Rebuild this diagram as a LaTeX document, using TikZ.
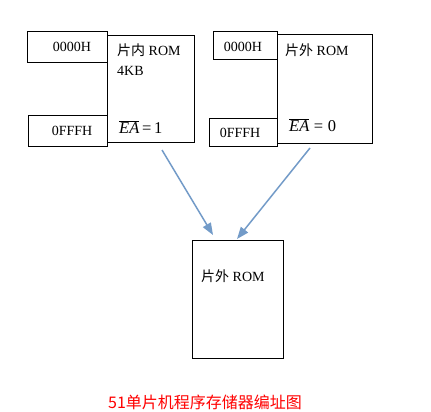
\documentclass[tikz,border=0pt]{standalone}
\usepackage{fontspec}
\setmainfont{Liberation Serif}
\newfontfamily\cjk{Noto Sans CJK SC}
\usetikzlibrary{arrows.meta}
\definecolor{arrowblue}{RGB}{115,155,200}
\definecolor{capred}{RGB}{255,0,0}
\tikzset{
  box/.style={draw=black, line width=0.8pt, inner sep=0pt, anchor=north west},
  lbl/.style={font=\fontsize{14}{16}\selectfont, inner sep=0pt},
  eqlbl/.style={font=\fontsize{16.5}{18}\selectfont, inner sep=0pt, anchor=west},
  memarrow/.style={draw=arrowblue, line width=1.5pt, -{Triangle[length=12pt,width=9pt]}}
}
\begin{document}
\begin{tikzpicture}[x=1pt,y=-1pt]
\useasboundingbox (0,0) rectangle (431,412);
% left group
\node[box, minimum width=80pt, minimum height=31pt] (la) at (27,31) {};
\node[box, minimum width=79pt, minimum height=31pt] (lf) at (28,115) {};
\node[box, minimum width=87pt, minimum height=107pt] (lm) at (107,35) {};
\node[lbl] (lat) at (72,47) {0000H};
\node[lbl] (lft) at (72,131) {0FFFH};
\node[lbl, anchor=west] (lm1) at (117,50) {{\cjk 片内} ROM};
\node[lbl, anchor=west] (lm2) at (117,71) {4KB};
\node[eqlbl] (lm3) at (119,127) {$\overline{\mbox{\itshape EA}}$\,=\,1};
% right group
\node[box, minimum width=64pt, minimum height=28pt] (ra) at (213,31) {};
\node[box, minimum width=68pt, minimum height=28pt] (rf) at (209,118) {};
\node[box, minimum width=95pt, minimum height=109pt] (rm) at (277,34) {};
\node[lbl] (rat) at (243,47) {0000H};
\node[lbl] (rft) at (240,133) {0FFFH};
\node[lbl, anchor=west] (rm1) at (285,50) {{\cjk 片外} ROM};
\node[eqlbl] (rm3) at (289,125) {$\overline{\mbox{\itshape EA}}$\;=\;0};
% bottom
\node[box, minimum width=91pt, minimum height=118pt] (bm) at (192,240) {};
\node[lbl, anchor=west] (bm1) at (201,276) {{\cjk 片外} ROM};
% arrows
\coordinate (s1) at (162,150);
\coordinate (e1) at (213,235);
\coordinate (s2) at (310,148);
\coordinate (e2) at (237,239);
\draw[memarrow] (s1) -- (e1);
\draw[memarrow] (s2) -- (e2);
% caption
\node[font=\cjk\fontsize{16}{18}\selectfont, text=capred, inner sep=0pt] (cap) at (205,402) {51单片机程序存储器编址图};
\end{tikzpicture}
\end{document}
